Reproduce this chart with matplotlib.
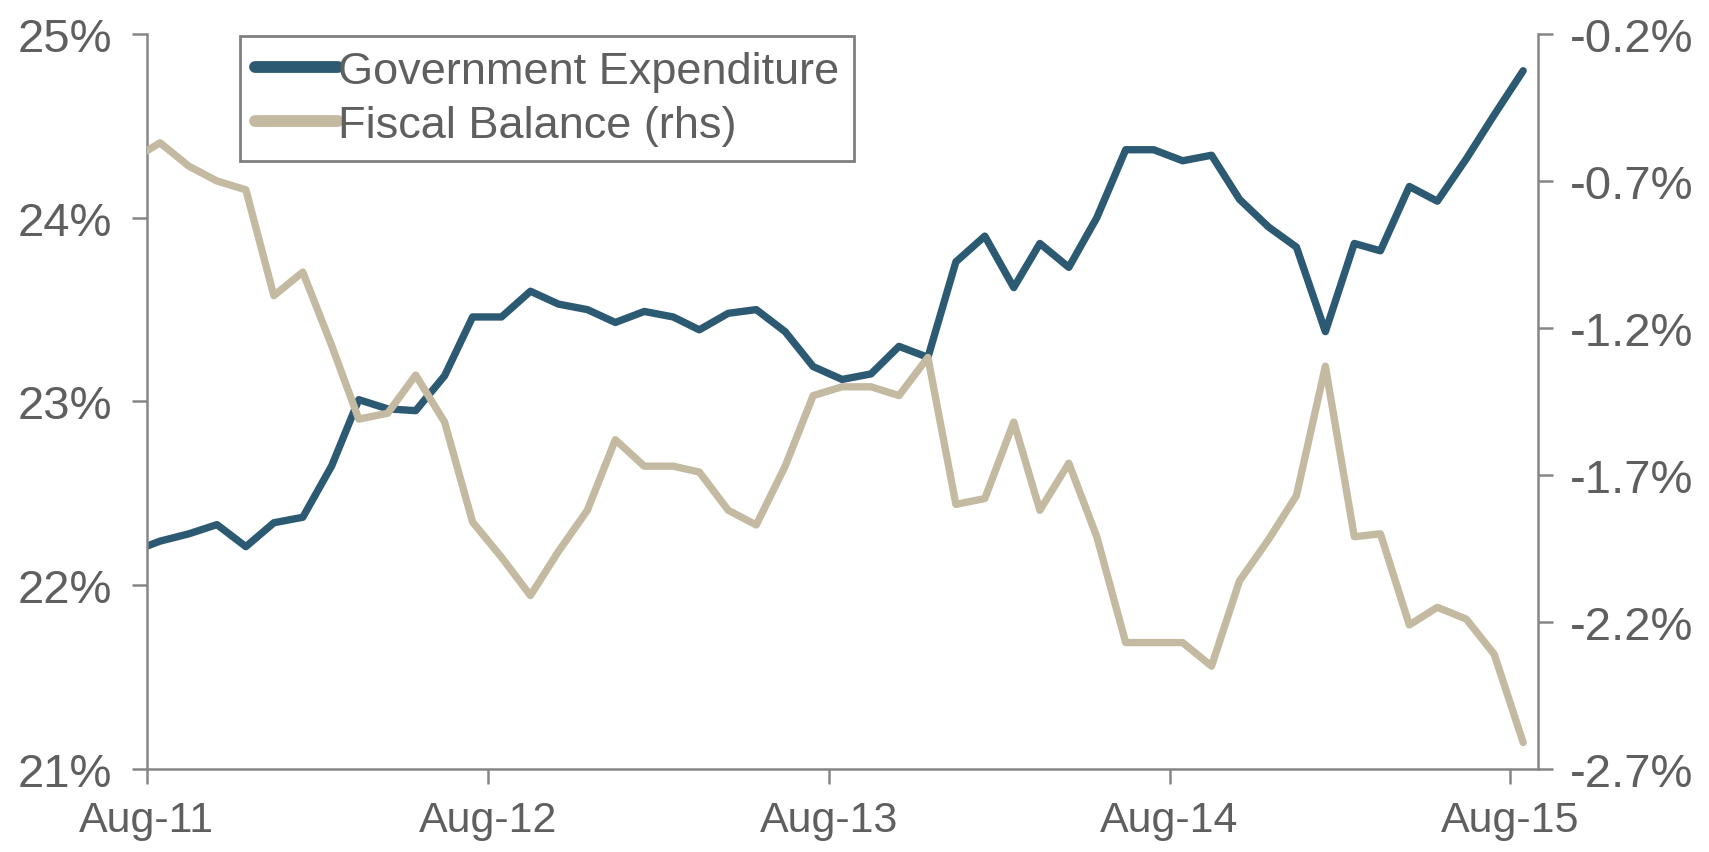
#!/usr/bin/env python3
"""
Government expenditure vs fiscal balance (% of GDP), Aug-11 .. Aug-15
Left axis: expenditure, right axis: fiscal balance (rhs)
"""

import matplotlib
matplotlib.use('Agg')
import matplotlib.pyplot as plt
from matplotlib import font_manager
import pandas as pd
import datetime as dt

# ── Data (monthly, plotted mid-month, Jul-11 .. Aug-15) ──────────────────────
START_MONTH = '2011-07-01'
N_MONTHS    = 50

gov_expenditure = [
    22.18, 22.24, 22.28, 22.33, 22.21, 22.34, 22.37, 22.65, 23.01, 22.96,
    22.95, 23.14, 23.46, 23.46, 23.60, 23.53, 23.50, 23.43, 23.49, 23.46,
    23.39, 23.48, 23.50, 23.38, 23.19, 23.12, 23.15, 23.30, 23.24, 23.76,
    23.90, 23.62, 23.86, 23.73, 24.00, 24.37, 24.37, 24.31, 24.34, 24.10,
    23.95, 23.84, 23.38, 23.86, 23.82, 24.17, 24.09, 24.32, 24.56, 24.80,
]

fiscal_balance = [
    -0.63, -0.57, -0.65, -0.70, -0.73, -1.09, -1.01, -1.26, -1.51, -1.49,
    -1.36, -1.52, -1.86, -1.98, -2.11, -1.96, -1.82, -1.58, -1.67, -1.67,
    -1.69, -1.82, -1.87, -1.67, -1.43, -1.40, -1.40, -1.43, -1.30, -1.80,
    -1.78, -1.52, -1.82, -1.66, -1.91, -2.27, -2.27, -2.27, -2.35, -2.06,
    -1.92, -1.77, -1.33, -1.91, -1.90, -2.21, -2.15, -2.19, -2.31, -2.61,
]

left_ticks    = [21, 22, 23, 24, 25]
right_ticks   = [-2.7, -2.2, -1.7, -1.2, -0.7, -0.2]
x_tick_dates  = ['2011-08-01', '2012-08-01', '2013-08-01', '2014-08-01', '2015-08-01']
x_tick_labels = ['Aug-11', 'Aug-12', 'Aug-13', 'Aug-14', 'Aug-15']

BLUE  = '#2c5a72'
TAN   = '#c4baa1'
GREY  = '#868686'
TEXT  = '#5f5f5f'

# ── Fonts ─────────────────────────────────────────────────────────────────────
names = {f.name for f in font_manager.fontManager.ttflist}
FONT = 'Liberation Sans Narrow' if 'Liberation Sans Narrow' in names else 'Liberation Sans'
NARROW = FONT == 'Liberation Sans Narrow'
plt.rcParams['font.family'] = [FONT, 'DejaVu Sans']


def main():
    dates = pd.date_range(START_MONTH, periods=N_MONTHS, freq='MS') + pd.Timedelta(days=14)

    fig = plt.figure(figsize=(17.09, 8.53), dpi=100)
    ax = fig.add_axes([0.086, 0.0973, 0.814, 0.8617])
    ax2 = ax.twinx()

    line_kw = dict(lw=5.3, solid_joinstyle='round', solid_capstyle='round')
    l1, = ax.plot(dates, gov_expenditure, color=BLUE, label='Government Expenditure', **line_kw)
    l2, = ax2.plot(dates, fiscal_balance, color=TAN, label='Fiscal Balance (rhs)', **line_kw)

    # axes ranges
    ax.set_xlim(dt.datetime(2011, 8, 1), dt.datetime(2015, 8, 31))
    ax.set_ylim(21, 25)
    ax2.set_ylim(-2.7, -0.2)

    ax.set_xticks(pd.to_datetime(x_tick_dates))
    ax.set_xticklabels(x_tick_labels)
    ax.set_yticks(left_ticks)
    ax.set_yticklabels([f'{v:d}%' for v in left_ticks])
    ax2.set_yticks(right_ticks)
    ax2.set_yticklabels([f'{v:.1f}%' for v in right_ticks])

    # spines / ticks
    for a in (ax, ax2):
        a.spines['top'].set_visible(False)
        for s in ('left', 'right', 'bottom'):
            a.spines[s].set_color(GREY)
            a.spines[s].set_linewidth(1.8)
        a.tick_params(colors=GREY, width=1.8, length=11, labelsize=34,
                      labelcolor=TEXT, direction='out')
    ax.spines['right'].set_visible(False)
    ax2.spines['left'].set_visible(False)
    ax2.spines['bottom'].set_visible(False)
    ax.tick_params(axis='y', pad=14)
    ax.tick_params(axis='x', pad=11, labelsize=34 if NARROW else 31)
    ax2.tick_params(axis='y', pad=12)

    # legend
    leg = ax2.legend(handles=[l1, l2], loc='upper left', bbox_to_anchor=(0.067, 0.997),
                     fontsize=37 if NARROW else 32.5, frameon=True, fancybox=False,
                     handlelength=1.85, handletextpad=0.0, labelspacing=0.3,
                     borderpad=0.32, borderaxespad=0.0)
    leg.get_frame().set_edgecolor(TEXT)
    leg.get_frame().set_linewidth(2.0)
    for t in leg.get_texts():
        t.set_color(TEXT)
    for ln in leg.get_lines():
        ln.set_linewidth(8.5)
        ln.set_solid_capstyle('round')

    fig.savefig('out.png', dpi=100)


if __name__ == "__main__":
    main()
